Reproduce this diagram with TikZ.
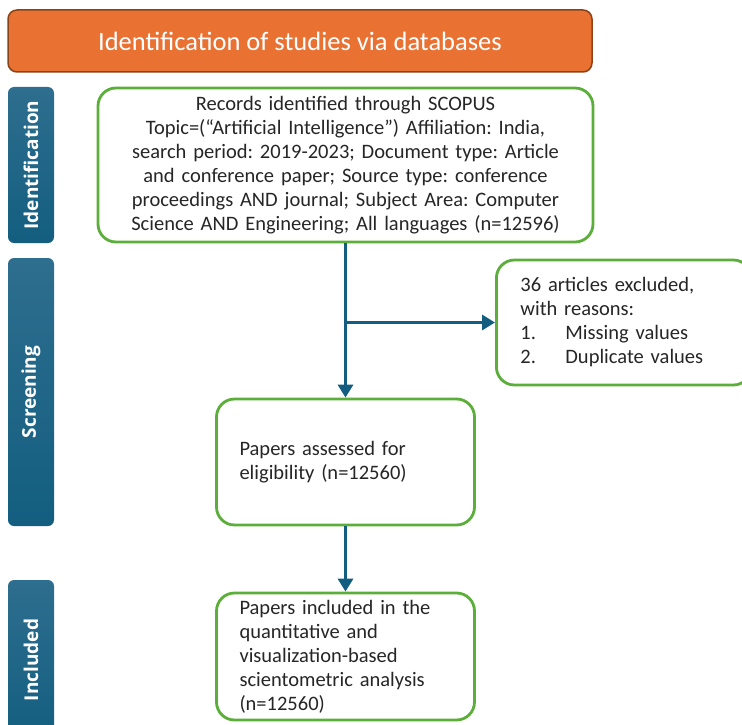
\documentclass[tikz,border=0pt]{standalone}
\usepackage{fontspec}
\setmainfont{Carlito}
\newfontfamily\sidefont{Open Sans}
\usetikzlibrary{arrows.meta}
\definecolor{prismaorange}{HTML}{E97132}
\definecolor{prismabrown}{HTML}{8A4318}
\definecolor{prismablue}{HTML}{135E80}
\definecolor{prismatop}{HTML}{2E6E8E}
\definecolor{prismagreen}{HTML}{5BAE3A}
\definecolor{prismatext}{HTML}{262626}
\frenchspacing

\begin{document}
\begin{tikzpicture}[x=1pt,y=-1pt,>={Triangle[length=13pt,width=15pt]},
  box/.style={draw=prismagreen,line width=2.8pt,rounded corners=18pt,fill=white,text=prismatext,font=\fontsize{20.5}{24}\selectfont},
  phase/.style={rounded corners=6pt,top color=prismatop,bottom color=prismablue,minimum height=46pt,text=white,font=\sidefont\bfseries\fontsize{19}{21}\selectfont,rotate=90},
  flow/.style={->,draw=prismablue,line width=3.8pt}]
\clip (0,0) rectangle (742,725);
\node[fill=prismaorange,draw=prismabrown,line width=1.5pt,rounded corners=9pt,minimum width=584pt,minimum height=62pt,text=white,font=\fontsize{26.5}{30}\selectfont] (title) at (300,41){Identification of studies via databases};
% phase bars on the left
\node[phase,minimum width=156pt] (idphase) at (31,165){Identification};
\node[phase,minimum width=268pt] (scrphase) at (31,392){Screening};
\node[phase,minimum width=160pt] (incphase) at (31,660){Included};
% flow boxes
\node[box,minimum width=495pt,minimum height=154pt,text width=470pt,align=center,inner sep=0pt] (records) at (345.5,165){Records identified through SCOPUS\\Topic=(“Artificial Intelligence”) Affiliation: India,\\search period: 2019-2023; Document type: Article\\and conference paper; Source type: conference\\proceedings AND journal; Subject Area: Computer\\Science AND Engineering; All languages (n=12596)};
\node[box,anchor=west,minimum width=255pt,minimum height=125pt,inner xsep=24pt,text width=207pt,align=left] (excluded) at (495,322.5){36 articles excluded,\\with reasons:\\\makebox[45pt][l]{1.}Missing values\\\makebox[45pt][l]{2.}Duplicate values};
\node[box,minimum width=258pt,minimum height=126pt,inner xsep=23pt,text width=212pt,align=left] (assessed) at (345.5,462){Papers assessed for\\eligibility (n=12560)};
\node[box,minimum width=258pt,minimum height=127pt,inner xsep=23pt,text width=212pt,align=left] (included) at (345.5,656.5){Papers included in the\\quantitative and\\visualization-based\\scientometric analysis\\(n=12560)};
\draw[flow] (records) -- (assessed);
\coordinate (split) at (records.south |- excluded.west);
\draw[flow] (split) -- (excluded.west);
\draw[flow] (assessed) -- (included);
\end{tikzpicture}
\end{document}
